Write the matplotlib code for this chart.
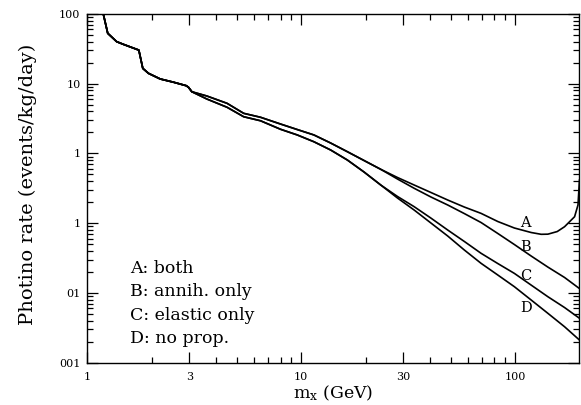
import matplotlib
matplotlib.use("Agg")
import matplotlib.pyplot as plt
from matplotlib.ticker import FixedLocator, FixedFormatter, NullFormatter

plt.rcParams["font.family"] = ["DejaVu Serif"]
plt.rcParams["mathtext.fontset"] = "dejavuserif"

# shared low-mass part (all four curves coincide)
mass_low = [1.187, 1.245, 1.371, 1.474, 1.703, 1.74, 1.816, 1.93, 2.19, 2.53, 2.90, 2.97]
rate_low = [100, 52.9, 40.1, 36.7, 31.1, 30.4, 16.6, 14.1, 11.7, 10.5, 9.36, 8.88]

# above ~3 GeV the curves split into an upper pair (A, B) and lower pair (C, D)
mass_mid = [3.08, 3.62, 4.50, 5.38, 6.45, 8.0, 9.58, 11.46, 13.72, 16.43, 19.66, 23.54]
rate_upper = [7.67, 6.66, 5.23, 3.76, 3.30, 2.64, 2.20, 1.84, 1.41, 1.058, 0.791, 0.591]
rate_lower = [7.67, 6.03, 4.59, 3.36, 2.94, 2.22, 1.84, 1.47, 1.12, 0.804, 0.541, 0.352]

mass_tail = [28.19, 33.73, 40.4, 48.4, 57.9, 69.3, 83.0, 99.2, 118.9, 142.3, 170.3, 200]
rate_B = [0.429, 0.316, 0.237, 0.182, 0.137, 0.102, 0.0710, 0.0493, 0.0337, 0.0234, 0.0166, 0.0115]
rate_C = [0.241, 0.172, 0.118, 0.0796, 0.0545, 0.0369, 0.0263, 0.0190, 0.0129, 0.00879, 0.00615, 0.00431]
rate_D = [0.229, 0.154, 0.1003, 0.0653, 0.0411, 0.0265, 0.0180, 0.01224, 0.00788, 0.00508, 0.00326, 0.0021]

mass_tail_A = [28.19, 33.73, 40.4, 48.4, 57.9, 69.3, 83.0, 99.2, 118.9, 132.4, 142.3, 157.4,
               170.3, 189.7, 196.8, 200]
rate_A = [0.451, 0.352, 0.275, 0.2145, 0.170, 0.138, 0.1054, 0.0851, 0.0733, 0.0691, 0.0694, 0.0757,
          0.0888, 0.1235, 0.182, 0.415]

curve_names = ["A", "B", "C", "D"]
curve_label_y = [0.102, 0.0454, 0.0177, 0.00596]
legend_lines = ["A: both", "B: annih. only", "C: elastic only", "D: no prop."]

y_ticks = [0.001, 0.01, 0.1, 1, 10, 100]
y_tick_labels = ["001", "01", "1", "1", "10", "100"]
x_ticks = [1, 3, 10, 30, 100]
x_tick_labels = ["1", "3", "10", "30", "100"]

fig = plt.figure(figsize=(5.81, 4.05), dpi=100)
ax = fig.add_axes([0.1504, 0.1049, 0.847, 0.8605])

curves = [
    (mass_tail_A, rate_upper, rate_A),
    (mass_tail, rate_upper, rate_B),
    (mass_tail, rate_lower, rate_C),
    (mass_tail, rate_lower, rate_D),
]
for m_tail, r_mid, r_tail in curves:
    ax.plot(mass_low + mass_mid + m_tail, rate_low + r_mid + r_tail, color="black", lw=1.2)

ax.set_xscale("log")
ax.set_yscale("log")
ax.set_xlim(1, 200)
ax.set_ylim(0.001, 100)

ax.xaxis.set_major_locator(FixedLocator(x_ticks))
ax.xaxis.set_major_formatter(FixedFormatter(x_tick_labels))
minor_x = [v * d for d in (1, 10, 100) for v in range(2, 10) if v * d not in x_ticks and v * d < 200]
ax.xaxis.set_minor_locator(FixedLocator(minor_x))
ax.xaxis.set_minor_formatter(NullFormatter())

ax.yaxis.set_major_locator(FixedLocator(y_ticks))
ax.yaxis.set_major_formatter(FixedFormatter(y_tick_labels))
minor_y = [v * d for d in (0.001, 0.01, 0.1, 1, 10) for v in range(2, 10)]
ax.yaxis.set_minor_locator(FixedLocator(minor_y))
ax.yaxis.set_minor_formatter(NullFormatter())

ax.tick_params(which="both", direction="in", top=True, right=True, width=0.9)
ax.tick_params(which="major", length=8, labelsize=8)
ax.tick_params(axis="x", which="major", pad=7)
ax.tick_params(axis="y", which="major", pad=5)
ax.tick_params(which="minor", length=4)
for s in ax.spines.values():
    s.set_linewidth(1.0)

for name, yl in zip(curve_names, curve_label_y):
    ax.text(112, yl, name, fontsize=10.5, ha="center", va="center")

for i, line in enumerate(legend_lines):
    ax.text(0.087, 0.270 - i * 0.0669, line, transform=ax.transAxes,
            fontsize=12.5, ha="left", va="center")

ax.set_xlabel(r"m$_{\rm x}$ (GeV)", fontsize=12.5, va="center")
ax.xaxis.set_label_coords(0.5, -0.087)
ax.set_ylabel("Photino rate (events/kg/day)", fontsize=14, va="center")
ax.yaxis.set_label_coords(-0.1207, 0.51)

fig.savefig("out.png", dpi=100)
